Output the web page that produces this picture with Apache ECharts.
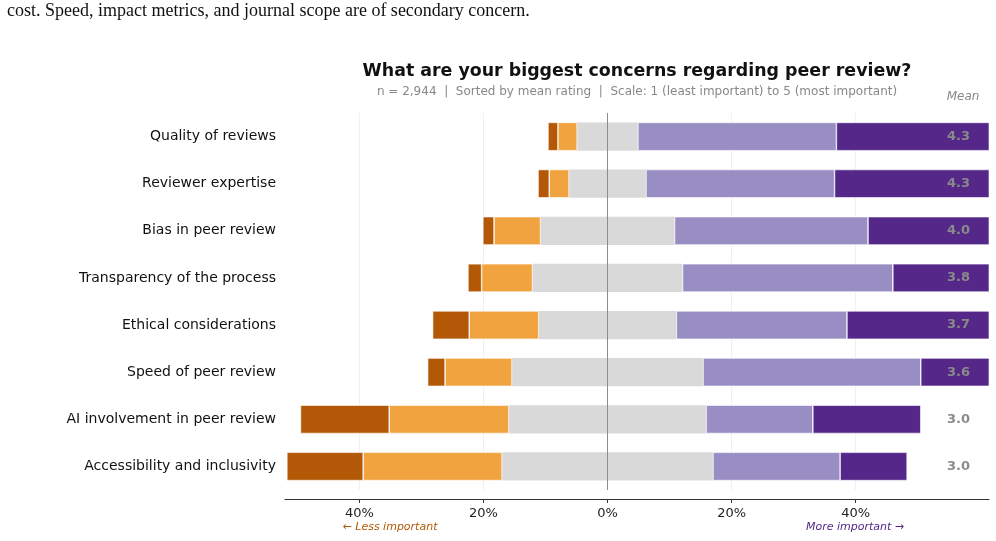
<!DOCTYPE html>
<html>
<head>
<meta charset="utf-8">
<script src="https://cdn.jsdelivr.net/npm/echarts@6/dist/echarts.min.js"></script>
<style>
  html, body { margin: 0; padding: 0; background: #fff; }
  #main { width: 996px; height: 541px; }
</style>
</head>
<body>
<div id="main"></div>
<script>
// survey answers, share of respondents per rating (1 = least, 5 = most important)
const categories = [
  'Quality of reviews',
  'Reviewer expertise',
  'Bias in peer review',
  'Transparency of the process',
  'Ethical considerations',
  'Speed of peer review',
  'AI involvement in peer review',
  'Accessibility and inclusivity'
]
const rating1 = [1.6, 1.8, 1.8, 2.2, 5.9, 2.8, 14.3, 12.3]
const rating2 = [3.1, 3.2, 7.5, 8.2, 11.2, 10.8, 19.3, 22.4]
const rating3 = [9.8, 12.4, 21.6, 24.2, 22.2, 30.8, 31.8, 34.0]
const rating4 = [32.0, 30.4, 31.2, 33.9, 27.5, 35.1, 17.2, 20.5]
const rating5 = [53.5, 52.2, 37.9, 31.5, 33.2, 20.5, 17.4, 10.8]
const means = [4.3, 4.3, 4.0, 3.8, 3.7, 3.6, 3.0, 3.0]
const tickValues = [-40, -20, 0, 20, 40]

const colors = ['#b35806', '#f1a340', '#d9d9d9', '#998ec3', '#542788']

var myChart = echarts.init(document.getElementById('main'))

const neg = (arr) => arr.map((v) => -v)
const half = (arr) => arr.map((v) => v / 2)

function seg(name, data, color, border) {
  return {
    name: name,
    type: 'bar',
    stack: 'total',
    barWidth: '60%',
    data: data,
    z: 2,
    itemStyle: {
      color: color,
      borderColor: '#fff',
      borderWidth: border ? 0.6 : 0
    },
    emphasis: { disabled: true }
  }
}

// vertical reference lines at given x values
function vlines(values, color, z) {
  return {
    type: 'line',
    data: [],
    z: z,
    markLine: {
      z: z,
      silent: true,
      symbol: 'none',
      label: { show: false },
      animation: false,
      lineStyle: { color: color, width: 1, type: 'solid' },
      data: values.map((v) => ({ xAxis: v }))
    }
  }
}

let option = {
  animation: false,
  grid: { left: 285, right: 7, top: 113, bottom: 51 },
  xAxis: {
    type: 'value',
    min: -52,
    max: 61.5,
    offset: 9,
    axisLine: { show: true, lineStyle: { color: '#333', width: 1.2 } },
    axisTick: { show: true, customValues: tickValues, length: 4, lineStyle: { color: '#333' } },
    axisLabel: {
      customValues: tickValues,
      formatter: (v) => Math.abs(v) + '%',
      color: '#222',
      fontSize: 13,
      margin: 8,
      fontFamily: 'DejaVu Sans'
    },
    splitLine: { show: false }
  },
  yAxis: [
    {
      type: 'category',
      inverse: true,
      data: categories,
      axisLine: { show: false },
      axisTick: { show: false },
      axisLabel: { color: '#111', fontSize: 14, margin: 9, fontFamily: 'DejaVu Sans' }
    },
    {
      type: 'category',
      inverse: true,
      position: 'right',
      data: means.map((m) => m.toFixed(1)),
      z: 10,
      axisLine: { show: false },
      axisTick: { show: false },
      axisLabel: {
        color: '#8a8a8a',
        fontSize: 13,
        fontWeight: 'bold',
        margin: -42,
        fontFamily: 'DejaVu Sans'
      }
    }
  ],
  series: [
    vlines(tickValues.filter((v) => v !== 0), '#f0f0f0', 0),
    seg('3 left', neg(half(rating3)), colors[2], false),
    seg('2', neg(rating2), colors[1], true),
    seg('1', neg(rating1), colors[0], true),
    seg('3 right', half(rating3), colors[2], false),
    seg('4', rating4, colors[3], true),
    seg('5', rating5, colors[4], true),
    vlines([0], '#8c8c8c', 5)
  ],
  graphic: [
    {
      type: 'text', left: 7, top: 2,
      style: {
        text: 'cost. Speed, impact metrics, and journal scope are of secondary concern.',
        font: '18px "Liberation Serif"', fill: '#111'
      }
    },
    {
      type: 'text', x: 637, y: 71,
      style: {
        text: 'What are your biggest concerns regarding peer review?',
        font: 'bold 17.4px "DejaVu Sans"', fill: '#111', align: 'center', verticalAlign: 'middle'
      }
    },
    {
      type: 'text', x: 637, y: 92,
      style: {
        text: 'n = 2,944  |  Sorted by mean rating  |  Scale: 1 (least important) to 5 (most important)',
        font: '12px "DejaVu Sans"', fill: '#888', align: 'center', verticalAlign: 'middle'
      }
    },
    {
      type: 'text', x: 963, y: 97,
      style: {
        text: 'Mean', font: 'italic 12px "DejaVu Sans"', fill: '#888', align: 'center', verticalAlign: 'middle'
      }
    },
    {
      type: 'text', x: 390, y: 527,
      style: {
        text: '← Less important', font: 'italic 11px "DejaVu Sans"', fill: '#b35806', align: 'center', verticalAlign: 'middle'
      }
    },
    {
      type: 'text', x: 855, y: 527,
      style: {
        text: 'More important →', font: 'italic 11px "DejaVu Sans"', fill: '#542788', align: 'center', verticalAlign: 'middle'
      }
    }
  ]
}
myChart.setOption(option)
</script>
</body>
</html>
